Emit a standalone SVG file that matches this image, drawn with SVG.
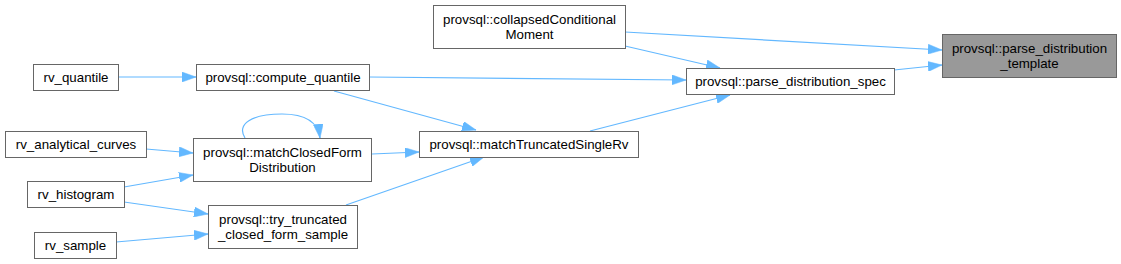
<svg xmlns="http://www.w3.org/2000/svg" width="1121" height="264" viewBox="0 0 1121 264">
<style>
.n rect{fill:#ffffff;stroke:#666666;stroke-width:1}
.hl rect{fill:#999999}
text{font-family:"Liberation Sans",Arial,sans-serif;font-size:13.3px;fill:#000000;text-anchor:middle}
.e path{fill:none;stroke:#63b8ff;stroke-width:1.2;marker-end:url(#ah)}
</style>
<defs>
<marker id="ah" markerUnits="userSpaceOnUse" markerWidth="14" markerHeight="10" refX="14" refY="5" orient="auto">
<path d="M0,0 L14,5 L0,10 z" fill="#63b8ff" stroke="#63b8ff" stroke-width="0.5"/>
</marker>
</defs>
<rect width="1121" height="264" fill="#ffffff"/>
<g class="e" id="edges">
<path d="M625,32 L942,50"/>
<path d="M894,70 L942,65"/>
<path d="M625,46 L720,68"/>
<path d="M369,77 L686,80"/>
<path d="M590,131 L730,95"/>
<path d="M334,91 L476,130"/>
<path d="M118,77 L196,77"/>
<path d="M372,154 L419,152"/>
<path d="M346,205 L484,157"/>
<path d="M245,138 C236,124 252,114 282,114 C306,114 318,122 320,138"/>
<path d="M146,149 L193,153"/>
<path d="M124,187 L193,175"/>
<path d="M124,202 L208,214"/>
<path d="M116,242 L208,234"/>
</g>
<g class="n" id="collapsedConditionalMoment">
<rect x="433.5" y="5.5" width="192" height="43"/>
<text x="529.5" y="23.5">provsql::collapsedConditional</text>
<text x="529.5" y="38.5">Moment</text>
</g>
<g class="n hl" id="parse_distribution_template">
<rect x="942.5" y="34.5" width="174" height="43"/>
<text x="1029.5" y="52.5">provsql::parse_distribution</text>
<text x="1029.5" y="67.5">_template</text>
</g>
<g class="n" id="parse_distribution_spec">
<rect x="686.5" y="68.5" width="208" height="26"/>
<text x="790.5" y="86">provsql::parse_distribution_spec</text>
</g>
<g class="n" id="rv_quantile">
<rect x="33.5" y="64.5" width="85" height="26"/>
<text x="76" y="82">rv_quantile</text>
</g>
<g class="n" id="compute_quantile">
<rect x="196.5" y="64.5" width="173" height="26"/>
<text x="283" y="82">provsql::compute_quantile</text>
</g>
<g class="n" id="matchTruncatedSingleRv">
<rect x="419.5" y="131.5" width="219" height="26"/>
<text x="529" y="149">provsql::matchTruncatedSingleRv</text>
</g>
<g class="n" id="matchClosedFormDistribution">
<rect x="193.5" y="138.5" width="178" height="43"/>
<text x="282.5" y="156.5">provsql::matchClosedForm</text>
<text x="282.5" y="171.5">Distribution</text>
</g>
<g class="n" id="rv_analytical_curves">
<rect x="5.5" y="131.5" width="141" height="26"/>
<text x="76" y="149">rv_analytical_curves</text>
</g>
<g class="n" id="rv_histogram">
<rect x="27.5" y="181.5" width="97" height="26"/>
<text x="76" y="199">rv_histogram</text>
</g>
<g class="n" id="try_truncated_closed_form_sample">
<rect x="208.5" y="205.5" width="149" height="43"/>
<text x="283" y="223.5">provsql::try_truncated</text>
<text x="283" y="238.5">_closed_form_sample</text>
</g>
<g class="n" id="rv_sample">
<rect x="34.5" y="232.5" width="82" height="26"/>
<text x="75.5" y="250">rv_sample</text>
</g>
</svg>
